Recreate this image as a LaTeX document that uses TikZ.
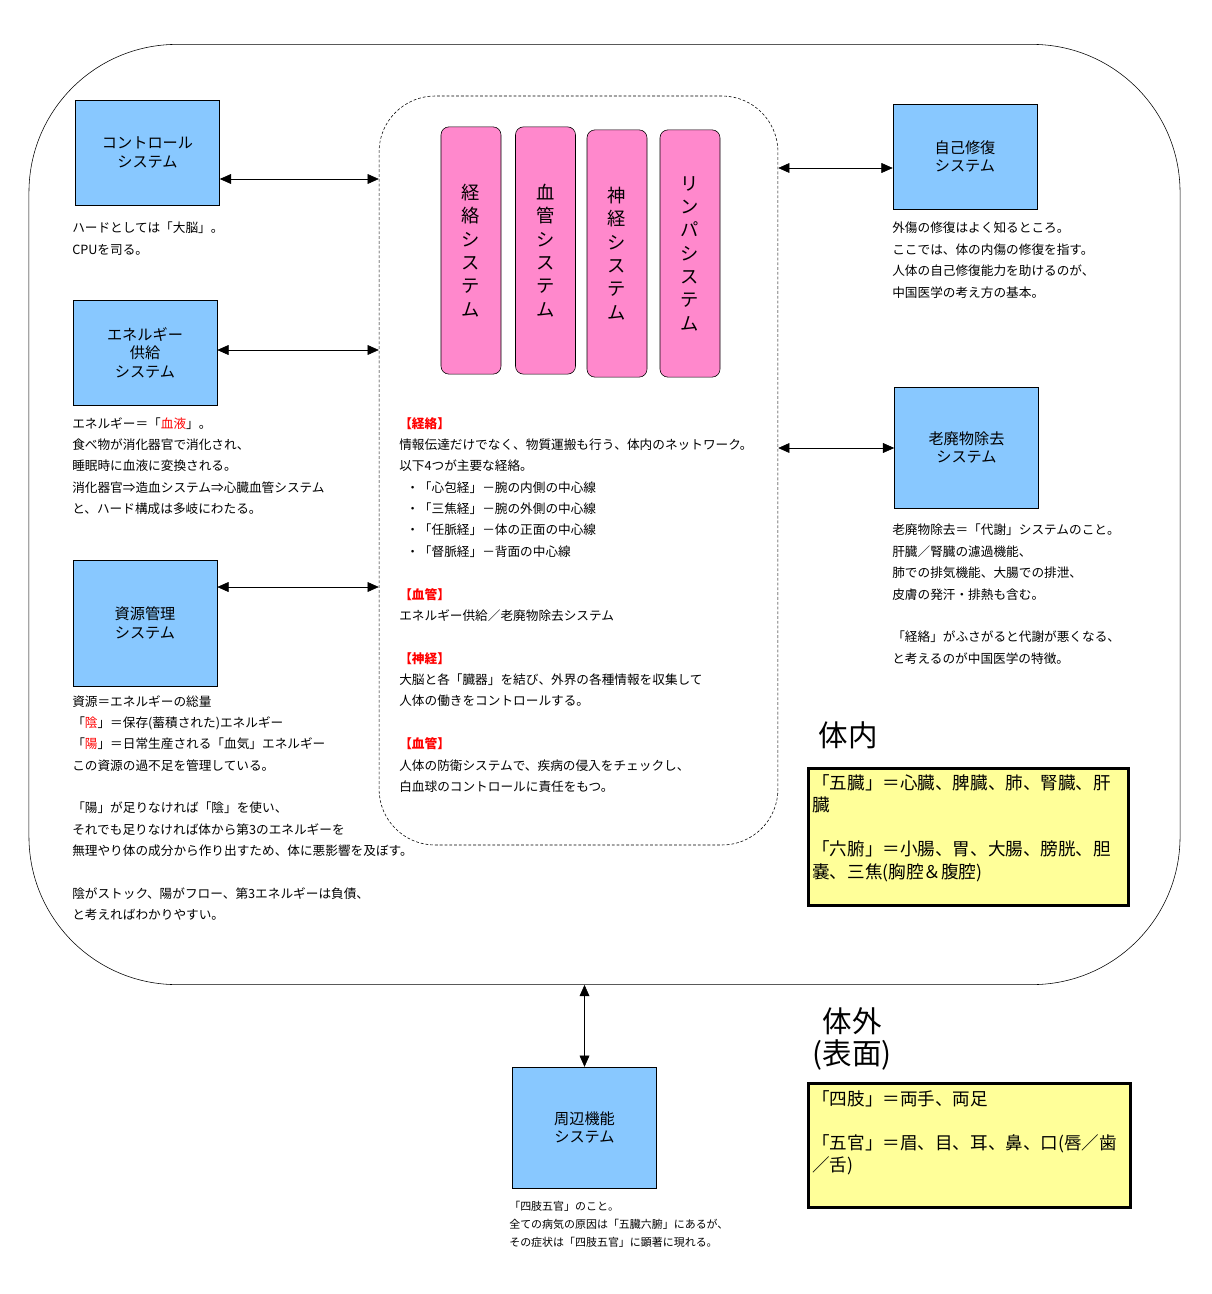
\documentclass[tikz,border=0pt]{standalone}
\usepackage{fontspec}
\setmainfont{Noto Sans CJK JP}
\usepackage{tikz}
\usetikzlibrary{arrows.meta}
\definecolor{sysblue}{RGB}{136,200,255}
\definecolor{organpink}{RGB}{255,136,204}
\definecolor{noteyellow}{RGB}{255,255,153}
\tikzset{sysbox/.style = {draw=black, fill=sysblue, minimum width=3.6cm, align=center, inner sep=0,
                          font=\fontsize{10.8}{13.1}\selectfont},
         organ/.style = {draw=black, fill=organpink, rounded corners=0.2cm, minimum width=1.5cm,
                         minimum height=6.18cm, align=center, inner sep=0,
                         font=\fontsize{13}{16.6}\selectfont},
         memo/.style = {anchor=north west, align=left, inner sep=0,
                        font=\fontsize{9}{15.2}\selectfont},
         smallmemo/.style = {memo, font=\fontsize{7.8}{12.8}\selectfont},
         yellowbox/.style = {draw=black, line width=2.1pt, fill=noteyellow, anchor=north west},
         bigmemo/.style = {memo, font=\fontsize{12.5}{15.8}\selectfont},
         title/.style = {align=center, inner sep=0, font=\fontsize{21}{22.7}\selectfont},
         link/.style = {{Triangle[length=8pt,width=7pt]}-{Triangle[length=8pt,width=7pt]}}}
\newcommand{\hdr}[1]{\textcolor{red}{\bfseries 【#1】}}

\begin{document}
\begin{tikzpicture}[x=0.025cm, y=-0.025cm]
        \useasboundingbox (0,0) rectangle (1211,1294);

        % frames
        \node [draw, rounded corners=3.7cm, minimum width=28.77cm, minimum height=23.5cm] (body) at (604.5,514.5) {};
        \node [draw, dash pattern=on 2pt off 1.4pt, rounded corners=1.4cm, minimum width=9.97cm,
               minimum height=18.72cm] (core) at (578.5,470.5) {};

        % left systems
        \node [sysbox, minimum height=2.62cm] (ctrl)     at (147.5,152.5) {コントロール\\システム};
        \node [sysbox, minimum height=2.62cm] (energy)   at (145,352.5)   {エネルギー\\供給\\システム};
        \node [sysbox, minimum height=3.15cm] (resource) at (145,623)     {資源管理\\システム};

        % right systems
        \node [sysbox, minimum height=2.62cm] (repair) at (965,156.5)  {自己修復\\システム};
        \node [sysbox, minimum height=3.02cm] (waste)  at (966.5,447.5) {老廃物除去\\システム};

        % outside
        \node [sysbox, minimum height=3.02cm] (peri) at (584.5,1127.5) {周辺機能\\システム};

        % the four networks
        \node [organ] (keiraku) at (471,250.5)   {経\\絡\\シ\\ス\\テ\\ム};
        \node [organ] (kekkan)  at (545.5,250.5) {血\\管\\シ\\ス\\テ\\ム};
        \node [organ] (shinkei) at (617,253.5)   {神\\経\\シ\\ス\\テ\\ム};
        \node [organ] (lymph)   at (690,253.5)   {リ\\ン\\パ\\シ\\ス\\テ\\ム};

        \draw [link] (ctrl.east |- 0,179)     -- (core.west |- 0,179);
        \draw [link] (energy.east |- 0,350)   -- (core.west |- 0,350);
        \draw [link] (resource.east |- 0,587) -- (core.west |- 0,587);
        \draw [link] (core.east |- 0,168)     -- (repair.west |- 0,168);
        \draw [link] (core.east |- 0,448)     -- (waste.west |- 0,448);
        \draw [link] (peri.north |- body.south) -- (peri.north);

        % notes
        \node [memo] (ctrlnote) at (72,222) {ハードとしては「大脳」。\\CPUを司る。};
        \node [memo] (energynote) at (72,417) {エネルギー＝「\textcolor{red}{血液}」。\\
            食べ物が消化器官で消化され、\\
            睡眠時に血液に変換される。\\
            消化器官⇒造血システム⇒心臓血管システム\\
            と、ハード構成は多岐にわたる。};
        \node [memo] (resourcenote) at (72,695) {資源＝エネルギーの総量\\
            「\textcolor{red}{陰}」＝保存(蓄積された)エネルギー\\
            「\textcolor{red}{陽}」＝日常生産される「血気」エネルギー\\
            この資源の過不足を管理している。\\[15.2pt]
            「陽」が足りなければ「陰」を使い、\\
            それでも足りなければ体から第3のエネルギーを\\
            無理やり体の成分から作り出すため、体に悪影響を及ぼす。\\[15.2pt]
            陰がストック、陽がフロー、第3エネルギーは負債、\\
            と考えればわかりやすい。};
        \node [memo] (corenote) at (399,417) {\hdr{経絡}\\
            情報伝達だけでなく、物質運搬も行う、体内のネットワーク。\\
            以下4つが主要な経絡。\\
            \hspace*{5pt}・「心包経」－腕の内側の中心線\\
            \hspace*{5pt}・「三焦経」－腕の外側の中心線\\
            \hspace*{5pt}・「任脈経」－体の正面の中心線\\
            \hspace*{5pt}・「督脈経」－背面の中心線\\[15.2pt]
            \hdr{血管}\\
            エネルギー供給／老廃物除去システム\\[15.2pt]
            \hdr{神経}\\
            大脳と各「臓器」を結び、外界の各種情報を収集して\\
            人体の働きをコントロールする。\\[15.2pt]
            \hdr{血管}\\
            人体の防衛システムで、疾病の侵入をチェックし、\\
            白血球のコントロールに責任をもつ。};
        \node [memo] (repairnote) at (892,222) {外傷の修復はよく知るところ。\\
            ここでは、体の内傷の修復を指す。\\
            人体の自己修復能力を助けるのが、\\
            中国医学の考え方の基本。};
        \node [memo] (wastenote) at (892,524) {老廃物除去＝「代謝」システムのこと。\\
            肝臓／腎臓の濾過機能、\\
            肺での排気機能、大腸での排泄、\\
            皮膚の発汗・排熱も含む。\\[15.2pt]
            「経絡」がふさがると代謝が悪くなる、\\
            と考えるのが中国医学の特徴。};
        \node [smallmemo] (perinote) at (509,1201) {「四肢五官」のこと。\\
            全ての病気の原因は「五臓六腑」にあるが、\\
            その症状は「四肢五官」に顕著に現れる。};

        % inside / outside
        \node [title] (inside)  at (848,735)  {体内};
        \node [title] (outside) at (852,1039) {体外\\(表面)};

        \node [yellowbox, minimum width=8cm, minimum height=3.42cm] (zofu) at (807,767) {};
        \node [bigmemo] (zofutext) at (812,774) {「五臓」＝心臓、脾臓、肺、腎臓、肝\\
            臓\\[15.8pt]
            「六腑」＝小腸、胃、大腸、膀胱、胆\\
            嚢、三焦(胸腔＆腹腔)};
        \node [yellowbox, minimum width=8.05cm, minimum height=3.1cm] (shikan) at (807,1082) {};
        \node [bigmemo] (shikantext) at (812,1090) {「四肢」＝両手、両足\\[15.8pt]
            「五官」＝眉、目、耳、鼻、口(唇／歯\\
            ／舌)};
\end{tikzpicture}
\end{document}
